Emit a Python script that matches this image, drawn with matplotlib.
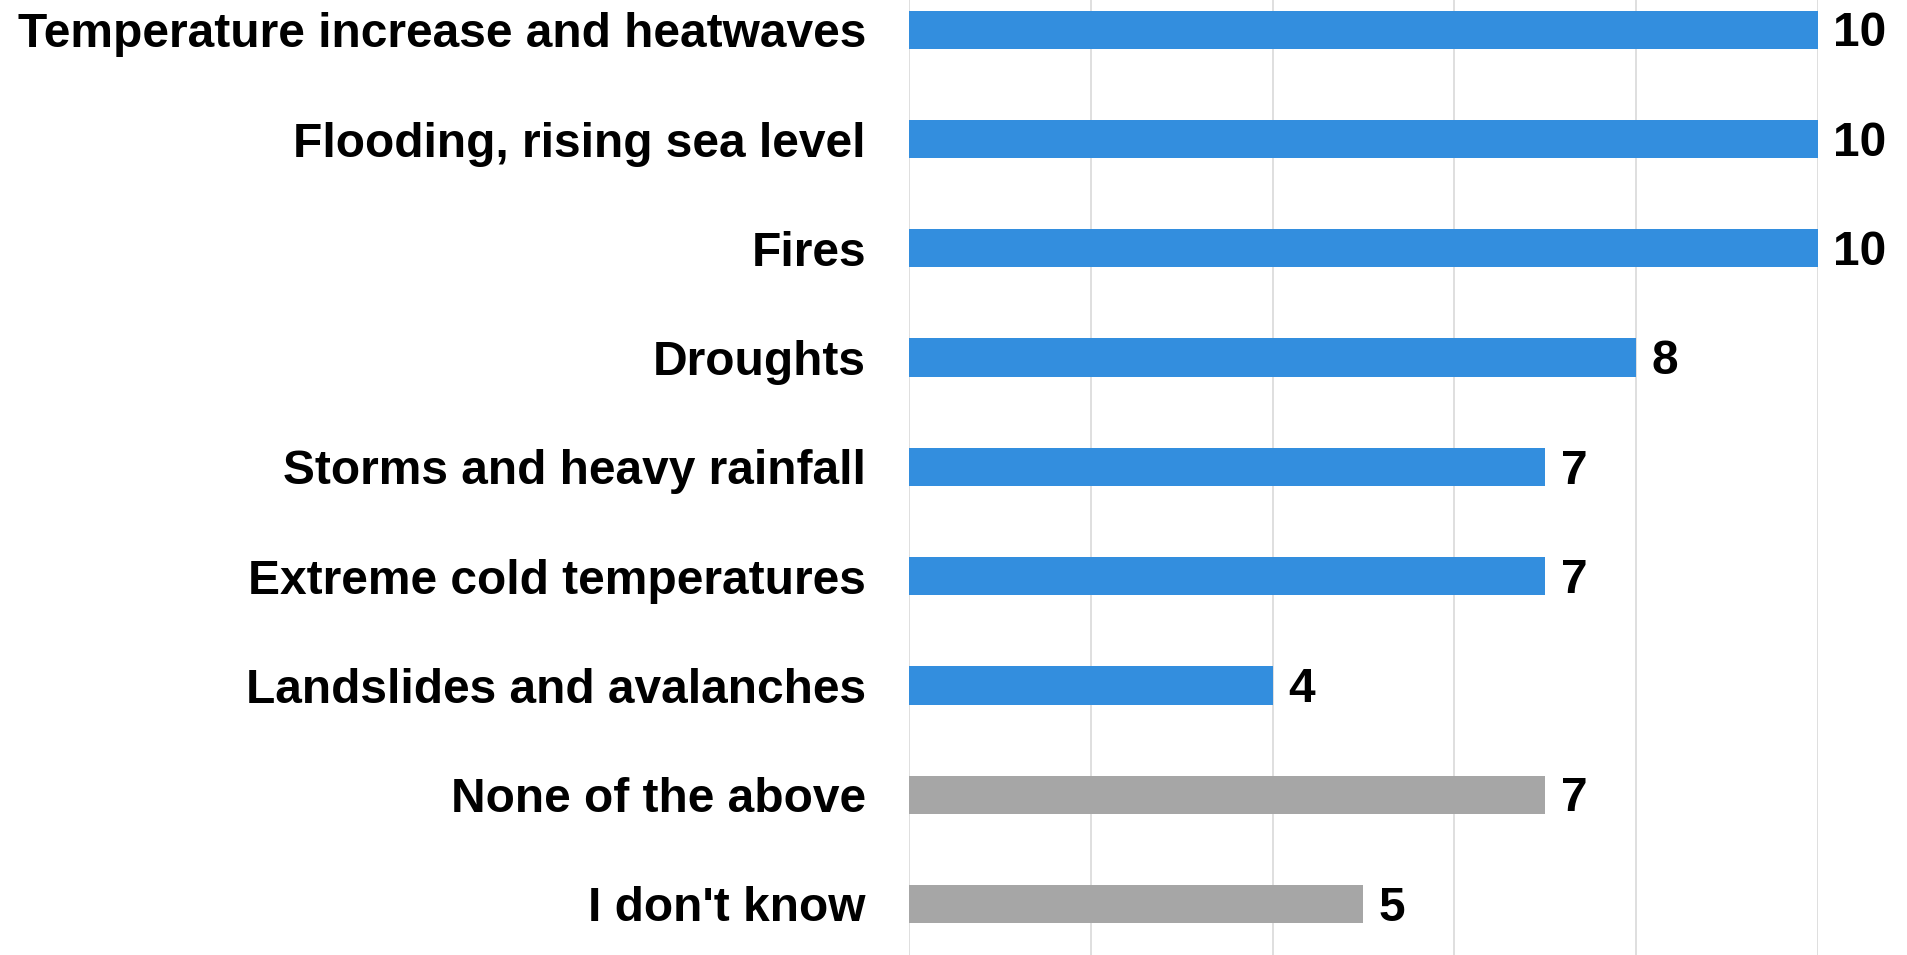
import matplotlib
matplotlib.use("Agg")
import matplotlib.pyplot as plt

categories = [
    "Temperature increase and heatwaves",
    "Flooding, rising sea level",
    "Fires",
    "Droughts",
    "Storms and heavy rainfall",
    "Extreme cold temperatures",
    "Landslides and avalanches",
    "None of the above",
    "I don't know",
]
values = [10, 10, 10, 8, 7, 7, 4, 7, 5]
colors = ["#338ede"] * 7 + ["#a6a6a6"] * 2

plt.rcParams["font.family"] = ["Liberation Sans", "DejaVu Sans"]

fig = plt.figure(figsize=(19.08, 9.55), dpi=100)
ax = fig.add_axes([909 / 1908, 0.0, (1818 - 909) / 1908, 1.0])

pos = list(range(len(categories)))
ax.barh(pos, values, height=0.35, color=colors, zorder=2)

# value labels
for p, v in zip(pos, values):
    ax.annotate(str(v), (v, p), xytext=(11, -3), textcoords="offset points",
                va="center", ha="left", fontsize=34.5, fontweight="bold",
                annotation_clip=False)

ax.set_xlim(0, 10)
ax.set_ylim(len(categories) - 1 + 0.467, -0.272)
ax.set_xticks([0, 2, 4, 6, 8, 10])
ax.set_xticklabels([])
ax.tick_params(axis="x", length=0)
ax.set_yticks(pos)
ax.set_yticklabels(categories, fontsize=34.5, fontweight="bold")
ax.tick_params(axis="y", length=0, pad=31)
ax.grid(axis="x", color="#d9d9d9", linewidth=1.2, zorder=0)
for s in ax.spines.values():
    s.set_visible(False)

fig.savefig("out.png", dpi=100)
